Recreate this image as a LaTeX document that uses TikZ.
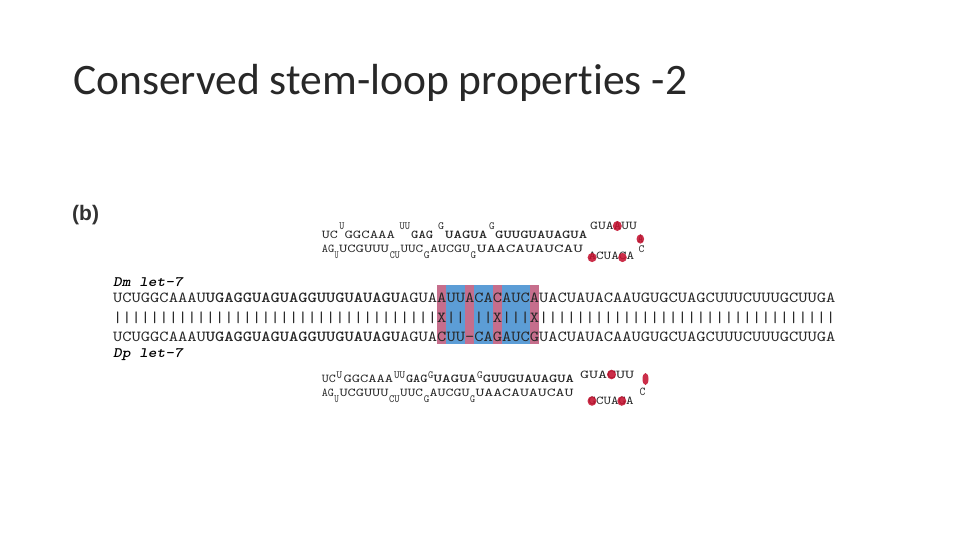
\documentclass[tikz,border=0pt]{standalone}
\usepackage{fontspec}
\setmainfont{Carlito}[Ligatures=NoCommon]
\newfontfamily\seqf{lmmono10-regular}[Extension=.otf, BoldFont=lmmonolt10-bold, ItalicFont=lmmonolt10-oblique, BoldItalicFont=lmmonolt10-boldoblique, FakeStretch=1.15]
\newfontfamily\hpf{lmmono10-regular}[Extension=.otf, BoldFont=lmmonolt10-bold, FakeStretch=1.2]
\newfontfamily\labf{Liberation Sans}
\newcommand\fw[2]{\resizebox{#1pt}{\height}{#2}}
\definecolor{seqgray}{RGB}{40,40,40}
\definecolor{titlegray}{RGB}{40,40,40}
\definecolor{labgray}{RGB}{50,50,50}
\definecolor{pinkc}{RGB}{198,110,140}
\definecolor{bluec}{RGB}{92,157,214}
\definecolor{dotred}{RGB}{196,18,48}
\begin{document}
\begin{tikzpicture}[x=1pt,y=-1pt,
  seqtxt/.style={font=\seqf\fontsize{15.335}{18}\selectfont, text=seqgray, inner sep=0, anchor=base west},
  hp/.style={font=\hpf\fontsize{12}{14}\selectfont, text=seqgray, inner sep=0, anchor=base west},
  hpb/.style={font=\hpf\bfseries\fontsize{12}{14}\selectfont, text=seqgray, inner sep=0, anchor=base west},
  mk/.style={font=\hpf\fontsize{11}{13}\selectfont, text=seqgray, inner sep=0, anchor=base west},
  namelab/.style={font=\seqf\bfseries\itshape\fontsize{14.4}{17}\selectfont, text=black, inner sep=0, anchor=base west},
  dotmark/.style={fill=dotred, fill opacity=0.88}]
\useasboundingbox (0,0) rectangle (960,540);
\fill[white] (0,0) rectangle (960,540);

% title
\node[anchor=base west, inner sep=0, font=\fontsize{43.5}{52}\selectfont, text=titlegray] (title) at (73,95) {Conserved stem-loop properties -2};
\node[anchor=base west, inner sep=0, font=\labf\bfseries\fontsize{21}{25}\selectfont, text=labgray] (blab) at (72,220) {(b)};

% highlight columns
\foreach \c/\col in {35/pinkc,36/bluec,37/bluec,38/pinkc,39/bluec,40/bluec,41/pinkc,42/bluec,43/bluec,44/bluec,45/pinkc}
  \fill[\col] ({113+9.259*\c},285) rectangle ({113+9.259*(\c+1)},344);

% alignment
\node[namelab] (dmlab) at (113,286) {Dm let-7};
\node[seqtxt] (dmseq) at (113,302) {UCUGGCAAAU\textbf{UGAGGUAGUAGGUUGUAUAGU}AGUAAUUACACAUCAUACUAUACAAUGUGCUAGCUUUCUUUGCUUGA};
\node[seqtxt] (match) at (113,322) {|||||||||||||||||||||||||||||||||||X||\phantom{|}||X|||X||||||||||||||||||||||||||||||||};
\node[seqtxt] (dpseq) at (113,341) {UCUGGCAAAU\textbf{UGAGGUAGUAGGUUGUAUAGU}AGUACUU-CAGAUCGUACUAUACAAUGUGCUAGCUUUCUUUGCUUGA};
\node[namelab] (dplab) at (113,357) {Dp let-7};

% Dm hairpin
\node[hp]  (a1)  at (321.7,238.3) {\fw{16}{UC}};
\node[mk]  (a2)  at (339.2,229.5) {\fw{5}{U}};
\node[hp]  (a3)  at (344.3,238.3) {\fw{50.5}{GGCAAA}};
\node[mk]  (a4)  at (399.3,229.5) {\fw{10.5}{UU}};
\node[hpb] (a5)  at (411,238.3)   {\fw{22}{GAG}};
\node[mk]  (a6)  at (438,229.5)   {\fw{6}{G}};
\node[hpb] (a7)  at (445,238.3)   {\fw{42}{UAGUA}};
\node[mk]  (a8)  at (489,229.5)   {\fw{5.5}{G}};
\node[hpb] (a9)  at (495,238.3)   {\fw{92}{GUUGUAUAGUA}};
\node[hp]  (a10) at (590,229.5)   {\fw{46.8}{GUAAUU}};
\node[hp]  (a11) at (637.3,242.3) {\fw{6}{A}};
\node[hp]  (b1)  at (321.7,252.7) {\fw{12.5}{AG}};
\node[mk]  (b2)  at (334.4,258.3) {\fw{4}{U}};
\node[hp]  (b3)  at (338.8,252.7) {\fw{50}{UCGUUU}};
\node[mk]  (b4)  at (389.6,258.3) {\fw{10}{CU}};
\node[hp]  (b5)  at (400.3,252.7) {\fw{22.7}{UUC}};
\node[mk]  (b6)  at (423.6,258.3) {\fw{5.8}{G}};
\node[hp]  (b7)  at (430,252.7)   {\fw{40}{AUCGU}};
\node[mk]  (b8)  at (470.5,258.3) {\fw{5.5}{G}};
\node[hp]  (b9)  at (476.7,252.7) {\fw{106}{UAACAUAUCAU}};
\node[hp]  (b10) at (588.3,259.5) {\fw{45.6}{ACUACA}};
\node[mk]  (b11) at (638.3,252.4) {\fw{5.8}{C}};
\fill[dotmark] (617.3,226) ellipse (4.5 and 5);
\fill[dotmark] (640.3,239) ellipse (3.8 and 4.6);
\fill[dotmark] (592.1,257.5) ellipse (4.5 and 4.6);
\fill[dotmark] (622.5,257.5) ellipse (4.3 and 4.6);

% Dp hairpin
\node[hp]  (c1)  at (321.7,382.3) {\fw{14}{UC}};
\node[mk]  (c2)  at (336.3,378.5) {\fw{5.5}{U}};
\node[hp]  (c3)  at (343.3,382.3) {\fw{49.7}{GGCAAA}};
\node[mk]  (c4)  at (394,378.5)   {\fw{11}{UU}};
\node[hpb] (c5)  at (405.8,382.3) {\fw{21.5}{GAG}};
\node[mk]  (c6)  at (428,378.5)   {\fw{5.2}{G}};
\node[hpb] (c7)  at (433.3,382.3) {\fw{43}{UAGUA}};
\node[mk]  (c8)  at (476.8,378.5) {\fw{5.5}{G}};
\node[hpb] (c9)  at (482.7,382.3) {\fw{91}{GUUGUAUAGUA}};
\node[hp]  (c10) at (580,378.5)   {\fw{54}{GUACUU}};
\node[hp]  (d1)  at (321.7,396.7) {\fw{12}{AG}};
\node[mk]  (d2)  at (334.2,402.3) {\fw{4.5}{U}};
\node[hp]  (d3)  at (339.3,396.7) {\fw{49}{UCGUUU}};
\node[mk]  (d4)  at (389,402.3)   {\fw{10.5}{CU}};
\node[hp]  (d5)  at (400,396.7)   {\fw{22.7}{UUC}};
\node[mk]  (d6)  at (423.6,402.3) {\fw{5.5}{G}};
\node[hp]  (d7)  at (429.3,396.7) {\fw{40}{AUCGU}};
\node[mk]  (d8)  at (470,402.3)   {\fw{5}{G}};
\node[hp]  (d9)  at (475.3,396.7) {\fw{98}{UAACAUAUCAU}};
\node[hp]  (d10) at (588.3,404.5) {\fw{45}{GCUAGA}};
\node[hp]  (d11) at (639.3,395)   {\fw{5.8}{C}};
\fill[dotmark] (611.5,374.5) ellipse (4.5 and 4.8);
\fill[dotmark] (645.5,379) ellipse (3 and 6);
\fill[dotmark] (592,401) ellipse (4.5 and 4.8);
\fill[dotmark] (621.8,401) ellipse (4.5 and 4.8);
\end{tikzpicture}
\end{document}
